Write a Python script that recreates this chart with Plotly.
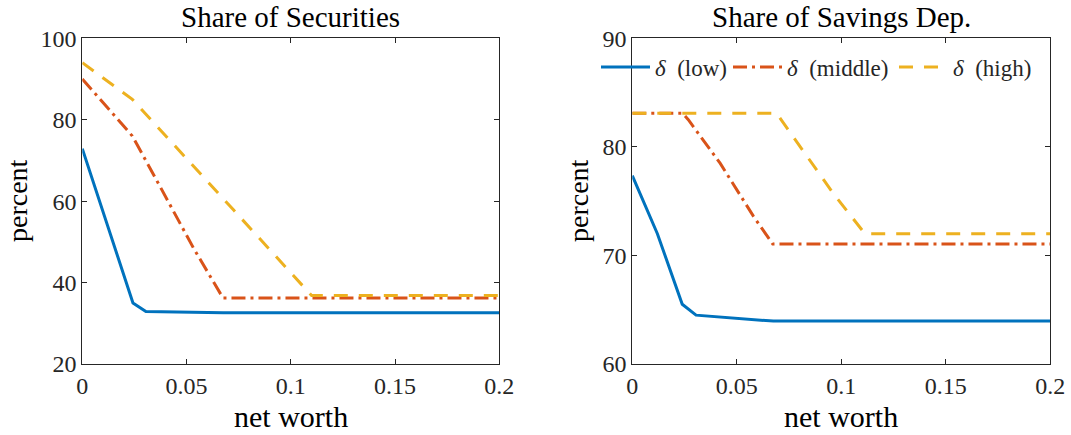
import plotly.graph_objects as go

# ---- data -------------------------------------------------------------
# Share of securities (percent) against net worth
sec_low_x = [0, 0.0243, 0.0305, 0.0675, 0.2]
sec_low_y = [72.9, 35.0, 32.9, 32.6, 32.6]
sec_mid_x = [0, 0.024, 0.0374, 0.0534, 0.0675, 0.2]
sec_mid_y = [90.0, 76.0, 63.5, 48.4, 36.2, 36.2]
sec_high_x = [0, 0.024, 0.0726, 0.11, 0.2]
sec_high_y = [94.0, 85.0, 57.8, 36.8, 36.8]

# Share of savings deposits (percent) against net worth
sav_low_x = [0, 0.012, 0.0239, 0.0305, 0.0675, 0.2]
sav_low_y = [77.35, 72.0, 65.5, 64.5, 63.95, 63.95]
sav_mid_x = [0, 0.024, 0.0268, 0.042, 0.058, 0.0672, 0.2]
sav_mid_y = [83.1, 83.1, 82.5, 78.5, 73.6, 71.05, 71.05]
sav_high_x = [0, 0.069, 0.0962, 0.1113, 0.2]
sav_high_y = [83.1, 83.1, 75.7, 72.0, 72.0]

series_names = ["<i>δ</i>\u00a0\u00a0(low)", "<i>δ</i>\u00a0\u00a0(middle)", "<i>δ</i>\u00a0\u00a0(high)"]

x_tickvals = [0, 0.05, 0.1, 0.15, 0.2]
x_ticktext = ["0", "0.05", "0.1", "0.15", "0.2"]
sec_yticks = [20, 40, 60, 80, 100]
sav_yticks = [60, 70, 80, 90]

# ---- styling ----------------------------------------------------------
W, H = 1071, 435
FONT = "Liberation Serif"
INK = "#262626"
colors = ["#0072BD", "#D95319", "#EDB120"]
dashes = ["solid", "14px,5px,3px,5px", "14px,11px"]
widths = [3, 3, 3]


def px_x(p):
    return p / W


def px_y(p):
    return 1 - p / H


fig = go.Figure()

sec = [(sec_low_x, sec_low_y), (sec_mid_x, sec_mid_y), (sec_high_x, sec_high_y)]
sav = [(sav_low_x, sav_low_y), (sav_mid_x, sav_mid_y), (sav_high_x, sav_high_y)]
legend_ids = ["legend", "legend2", "legend3"]

for i, (xs, ys) in enumerate(sec):
    fig.add_trace(go.Scatter(
        x=xs, y=ys, mode="lines", xaxis="x", yaxis="y",
        line=dict(color=colors[i], width=widths[i], dash=dashes[i]),
        showlegend=False, hoverinfo="skip"))

for i, (xs, ys) in enumerate(sav):
    fig.add_trace(go.Scatter(
        x=xs, y=ys, mode="lines", xaxis="x2", yaxis="y2",
        name=series_names[i], legend=legend_ids[i],
        line=dict(color=colors[i], width=widths[i], dash=dashes[i]),
        showlegend=True, hoverinfo="skip"))

axis_common = dict(
    showline=True, linecolor=INK, linewidth=1, mirror="ticks",
    ticks="inside", ticklen=5, tickwidth=1, tickcolor=INK,
    showgrid=False, zeroline=False, automargin=False,
    tickfont=dict(family=FONT, size=24, color=INK),
)

left_dom = [px_x(82.3), px_x(499.3)]
right_dom = [px_x(632.3), px_x(1050.3)]
y_dom = [px_y(364), px_y(38.3)]

legend_common = dict(
    orientation="h", bgcolor="rgba(0,0,0,0)", borderwidth=0,
    font=dict(family=FONT, size=23, color=INK),
    xanchor="left", yanchor="middle", y=px_y(67), itemwidth=49,
    itemclick=False, itemdoubleclick=False,
)

fig.update_layout(
    template="none",
    width=W, height=H,
    margin=dict(l=0, r=0, t=0, b=0, autoexpand=False),
    paper_bgcolor="white", plot_bgcolor="white",
    xaxis=dict(domain=left_dom, range=[0, 0.2], tickvals=x_tickvals,
               ticktext=x_ticktext, anchor="y", **axis_common),
    yaxis=dict(domain=y_dom, range=[20, 100], tickvals=sec_yticks,
               anchor="x", **axis_common),
    xaxis2=dict(domain=right_dom, range=[0, 0.2], tickvals=x_tickvals,
                ticktext=x_ticktext, anchor="y2", **axis_common),
    yaxis2=dict(domain=y_dom, range=[60, 90], tickvals=sav_yticks,
                anchor="x2", **axis_common),
    legend=dict(x=px_x(596), **legend_common),
    legend2=dict(x=px_x(728), **legend_common),
    legend3=dict(x=px_x(894), **legend_common),
    showlegend=True,
)

title_font = dict(family=FONT, size=29, color="black")
label_font = dict(family=FONT, size=30, color="black")
ylabel_font = dict(family=FONT, size=28, color="black")
annotations = [
    dict(text="Share of Securities", x=(left_dom[0] + left_dom[1]) / 2, y=px_y(17), font=title_font),
    dict(text="Share of Savings Dep.", x=(right_dom[0] + right_dom[1]) / 2, y=px_y(17), font=title_font),
    dict(text="net worth", x=(left_dom[0] + left_dom[1]) / 2, y=px_y(416), font=label_font),
    dict(text="net worth", x=(right_dom[0] + right_dom[1]) / 2, y=px_y(416), font=label_font),
    dict(text="percent", x=px_x(17), y=px_y(201), textangle=-90, font=ylabel_font),
    dict(text="percent", x=px_x(578), y=px_y(201), textangle=-90, font=ylabel_font),
]
for a in annotations:
    fig.add_annotation(xref="paper", yref="paper", showarrow=False,
                       xanchor="center", yanchor="middle", **a)

fig.write_html("out.html")
